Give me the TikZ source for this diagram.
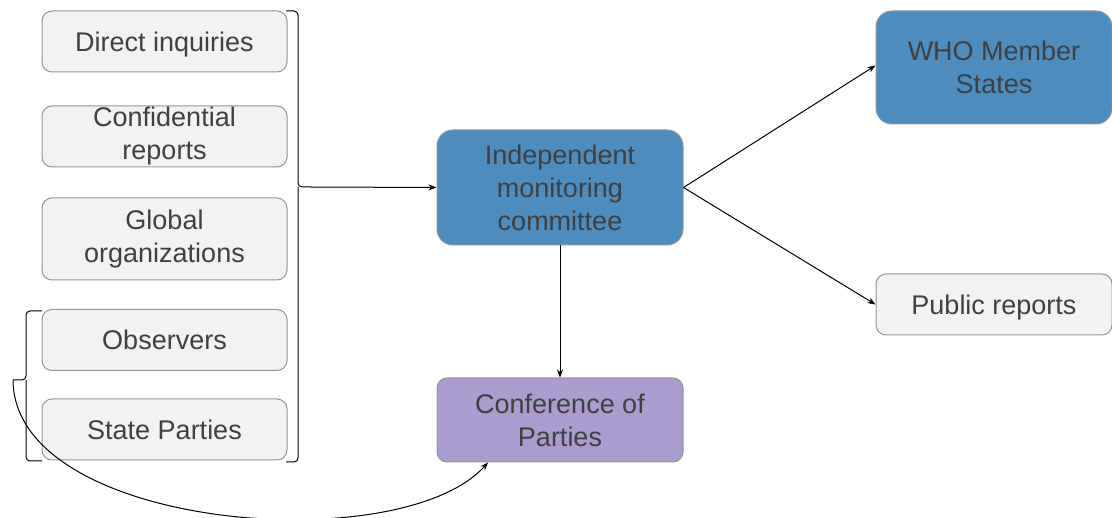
\documentclass[tikz,border=0pt]{standalone}
\usepackage{fontspec}
\setmainfont{Liberation Sans}
\usetikzlibrary{arrows.meta}
\definecolor{boxgray}{RGB}{242,242,242}
\definecolor{boxblue}{RGB}{76,140,190}
\definecolor{boxpurple}{RGB}{168,157,206}
\definecolor{txtgray}{RGB}{64,64,64}
\definecolor{linegray}{RGB}{150,150,150}
\begin{document}
\begin{tikzpicture}[x=1pt,y=-1pt,
		box/.style={draw=linegray,line width=1pt,rounded corners=10pt,align=center,
			text=txtgray,font=\fontsize{27}{33}\selectfont,inner sep=0pt},
		src/.style={box,fill=boxgray,minimum width=245pt,minimum height=61pt},
		low/.style={execute at begin node={\rule{0pt}{25.5pt}}},
		con/.style={-{Stealth[length=8pt,width=6pt]},line width=1pt}]
		\useasboundingbox (0,0) rectangle (1112,518);
		% sources
		\node [src,low] (dir) at (164.5,41.5) {Direct inquiries};
		\node [src,low] (conf) at (164.5,136.5) {Confidential\\reports};
		\node [src,low,minimum height=82pt] (glob) at (164.5,239) {Global\\organizations};
		\node [src] (obs) at (164.5,340) {Observers};
		\node [src] (sp) at (164.5,429.5) {State Parties};
		% main boxes
		\node [box,fill=boxblue,rounded corners=16pt,minimum width=246pt,minimum height=115pt] (imc) at (560,187.5) {Independent\\monitoring\\committee};
		\node [box,fill=boxpurple,minimum width=246pt,minimum height=84pt] (cop) at (560,420) {Conference of\\Parties};
		\node [box,fill=boxblue,rounded corners=16pt,minimum width=236pt,minimum height=113pt] (who) at (994,67.5) {WHO Member\\States};
		\node [src,low,minimum width=236pt] (pub) at (994,304.5) {Public reports};
		% brackets
		\coordinate (rb) at (310,187);
		\coordinate (lb) at (13,380);
		\draw [line width=1pt,rounded corners=4pt] (286,11) -| (298,187) -- (rb);
		\draw [line width=1pt,rounded corners=4pt] (286,462) -| (298,187);
		\draw [line width=1pt,rounded corners=4pt] (42,311) -| (26,380) -- (lb);
		\draw [line width=1pt,rounded corners=4pt] (42,461) -| (26,380);
		% connectors
		\draw [con] (rb) -- (imc.west);
		\draw [con] (imc.east) -- ([yshift=2pt]who.west);
		\draw [con] (imc.east) -- (pub.west);
		\draw [con] (imc.south) -- (cop.north);
		\draw [con] (lb) .. controls (14,530) and (400,560) .. ([xshift=-72pt]cop.south);
	\end{tikzpicture}
\end{document}
